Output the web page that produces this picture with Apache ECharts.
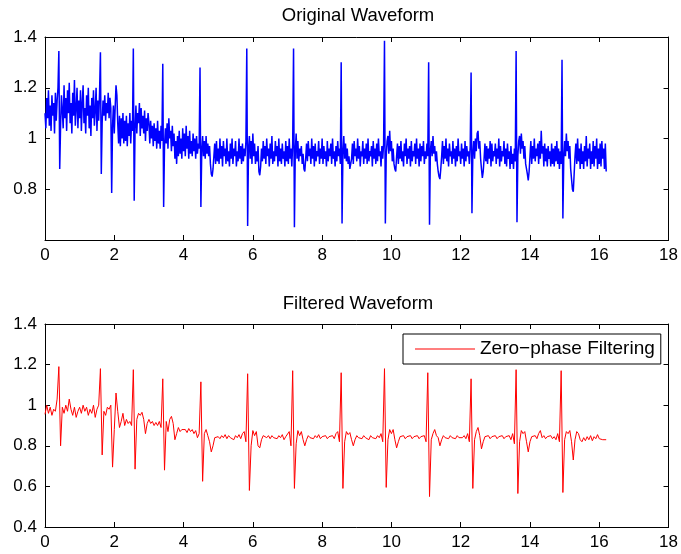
<!DOCTYPE html>
<html>
<head>
<meta charset="utf-8">
<script src="https://cdn.jsdelivr.net/npm/echarts@6/dist/echarts.min.js"></script>
<style>
  html, body { margin: 0; padding: 0; background: #fff; }
  #chart { width: 681px; height: 554px; }
</style>
</head>
<body>
<div id="chart"></div>
<script>
// Sampling intervals (seconds) of the two recordings
const ORIGINAL_DT = 0.025;
const FILTERED_DT = 0.05;

// Raw ECG-like waveform, one row of 40 samples per second
const originalSignal = [
  // 0 s
  1.10, 1.04, 1.16, 1.08, 1.19, 1.05, 1.13, 1.03, 1.17, 1.09,
  1.14, 1.02, 1.18, 1.07, 1.15, 1.20, 1.345, 0.88, 1.05, 1.17,
  1.11, 1.04, 1.21, 1.08, 1.16, 1.03, 1.19, 1.10, 1.22, 1.06,
  1.14, 1.02, 1.18, 1.09, 1.23, 1.05, 1.12, 1.20, 1.04, 1.15,
  // 1 s
  1.08, 1.19, 1.03, 1.14, 1.21, 1.06, 1.12, 1.02, 1.17, 1.09,
  1.20, 1.04, 1.13, 1.01, 1.16, 1.08, 1.19, 1.05, 1.11, 1.20,
  1.03, 1.15, 1.07, 1.18, 1.34, 0.86, 1.06, 1.15, 1.09, 1.17,
  1.07, 1.14, 1.10, 1.18, 1.08, 1.16, 1.12, 0.785, 1.05, 1.13,
  // 2 s
  1.02, 1.12, 1.21, 1.17, 1.06, 0.98, 1.09, 0.97, 1.08, 1.00,
  1.10, 0.98, 1.07, 0.99, 1.09, 0.97, 1.06, 1.01, 1.10, 0.98,
  1.07, 1.03, 1.355, 0.755, 1.04, 1.13, 1.02, 1.10, 1.06, 1.14,
  1.01, 1.12, 1.04, 1.09, 1.02, 1.11, 0.99, 1.08, 1.03, 1.10,
  // 3 s
  1.06, 0.98, 1.07, 1.00, 1.05, 0.97, 1.06, 0.99, 1.04, 0.96,
  1.07, 0.98, 1.03, 0.96, 1.05, 0.99, 1.295, 0.73, 0.97, 1.04,
  0.98, 1.06, 0.96, 1.08, 1.00, 1.03, 0.95, 1.05, 0.97, 1.02,
  0.92, 0.99, 0.90, 1.01, 0.93, 1.03, 0.94, 1.00, 0.92, 1.04,
  // 4 s
  0.95, 1.02, 0.93, 1.05, 0.96, 1.01, 0.92, 1.03, 0.94, 0.99,
  0.93, 1.02, 0.95, 1.00, 0.92, 1.01, 0.94, 0.98, 0.96, 1.28,
  0.73, 0.95, 1.01, 0.93, 0.99, 0.92, 1.01, 0.94, 0.98, 0.93,
  0.97, 0.90, 0.86, 0.85, 0.88, 0.93, 0.98, 0.90, 0.99, 0.91,
  // 5 s
  0.96, 0.90, 1.00, 0.92, 0.97, 0.89, 0.99, 0.93, 0.96, 0.90,
  1.00, 0.91, 0.95, 0.89, 0.98, 0.92, 1.00, 0.90, 0.96, 0.93,
  0.99, 0.89, 0.95, 0.91, 1.00, 0.92, 0.97, 0.90, 0.98, 0.91,
  0.96, 0.93, 0.99, 1.355, 0.655, 0.96, 1.01, 0.92, 0.99, 0.90,
  // 6 s
  1.02, 0.93, 0.98, 0.90, 0.95, 0.91, 0.97, 0.87, 0.855, 0.89,
  0.96, 0.91, 0.99, 0.92, 0.97, 0.90, 1.00, 0.93, 0.96, 0.89,
  0.98, 0.92, 1.01, 0.90, 0.95, 0.91, 0.99, 0.93, 0.97, 0.89,
  1.00, 0.91, 0.96, 0.90, 0.98, 0.92, 0.95, 0.89, 0.99, 0.91,
  // 7 s
  0.97, 0.90, 1.00, 0.92, 0.96, 0.89, 0.98, 1.355, 0.65, 0.95,
  1.02, 0.92, 0.99, 0.91, 0.96, 0.93, 0.97, 0.90, 0.94, 0.88,
  0.87, 0.92, 0.98, 0.91, 0.99, 0.93, 0.96, 0.90, 1.00, 0.92,
  0.97, 0.89, 0.98, 0.91, 0.95, 0.93, 0.99, 0.90, 0.96, 0.92,
  // 8 s
  1.00, 0.90, 0.97, 0.92, 0.95, 0.89, 0.99, 0.91, 0.96, 0.93,
  0.98, 0.90, 1.00, 0.92, 0.95, 0.89, 0.97, 0.91, 0.99, 0.93,
  0.96, 0.90, 1.30, 0.665, 0.94, 1.01, 0.92, 0.98, 0.91, 0.96,
  0.90, 0.93, 0.88, 0.875, 0.92, 0.98, 0.90, 0.99, 0.93, 0.96,
  // 9 s
  0.91, 1.00, 0.92, 0.97, 0.89, 0.95, 0.93, 0.99, 0.90, 0.96,
  0.92, 0.98, 0.90, 1.00, 0.91, 0.95, 0.93, 0.97, 0.89, 0.99,
  0.92, 0.96, 0.90, 0.98, 0.91, 1.00, 0.93, 0.95, 0.89, 0.97,
  0.92, 0.98, 1.385, 0.665, 0.93, 0.99, 1.01, 0.94, 1.03, 0.95,
  // 10 s
  0.99, 0.91, 0.96, 0.90, 0.88, 0.87, 0.93, 0.98, 0.90, 0.97,
  0.92, 0.99, 0.91, 0.95, 0.89, 0.98, 0.93, 1.00, 0.90, 0.96,
  0.92, 0.97, 0.89, 0.99, 0.91, 0.95, 0.93, 0.98, 0.90, 1.00,
  0.92, 0.96, 0.89, 0.98, 0.91, 0.97, 0.93, 0.99, 0.90, 0.95,
  // 11 s
  0.92, 0.98, 0.93, 1.30, 0.66, 0.95, 0.99, 0.93, 1.01, 0.94,
  0.97, 0.91, 0.95, 0.90, 0.87, 0.85, 0.84, 0.88, 0.93, 0.99,
  0.90, 0.97, 0.92, 1.00, 0.91, 0.96, 0.89, 0.98, 0.93, 0.95,
  0.90, 0.99, 0.92, 0.96, 0.89, 0.97, 0.91, 1.00, 0.93, 0.95,
  // 12 s
  0.90, 0.98, 0.92, 0.96, 0.89, 0.99, 0.91, 0.97, 0.93, 0.95,
  0.90, 0.97, 1.26, 0.705, 0.94, 0.99, 0.92, 1.00, 0.95, 1.02,
  1.03, 0.96, 0.99, 0.92, 0.88, 0.845, 0.87, 0.92, 0.98, 0.91,
  0.97, 0.90, 0.96, 0.92, 0.99, 0.89, 0.98, 0.91, 0.95, 0.93,
  // 13 s
  0.98, 0.90, 0.96, 0.92, 1.00, 0.89, 0.97, 0.91, 0.95, 0.93,
  0.99, 0.90, 0.96, 0.89, 0.98, 0.92, 0.95, 0.88, 0.97, 0.90,
  0.94, 0.88, 0.96, 0.91, 1.345, 0.67, 0.93, 0.99, 1.01, 0.94,
  1.02, 0.96, 0.99, 0.92, 0.97, 0.90, 0.88, 0.86, 0.835, 0.87,
  // 14 s
  0.93, 0.99, 0.90, 0.97, 0.92, 1.00, 0.91, 0.96, 0.93, 0.98,
  0.90, 0.99, 0.92, 1.03, 0.94, 0.97, 0.89, 0.98, 0.91, 0.96,
  0.89, 0.97, 0.92, 0.95, 0.89, 0.98, 0.90, 0.96, 0.89, 0.97,
  0.91, 0.99, 0.90, 0.96, 0.88, 0.95, 0.90, 1.31, 0.685, 0.92,
  // 15 s
  0.99, 0.93, 1.02, 0.95, 0.99, 0.92, 0.97, 0.88, 0.84, 0.80,
  0.79, 0.86, 0.93, 0.98, 0.90, 1.00, 0.91, 0.96, 0.88, 0.98,
  0.90, 0.95, 0.88, 0.97, 0.91, 1.01, 0.89, 0.96, 0.92, 0.98,
  0.88, 0.95, 0.90, 0.99, 0.89, 0.97, 0.92, 1.00, 0.88, 0.96,
  // 16 s
  0.90, 0.98, 0.89, 0.99, 0.92, 0.96, 0.88, 0.98, 0.87
];

// Zero-phase filtered waveform, one row of 20 samples per second
const filteredSignal = [
  // 0 s
  0.955, 1.00, 0.96, 0.99, 0.95, 0.98, 0.97, 1.03, 1.19, 0.80,
  0.99, 0.96, 1.00, 0.97, 1.03, 0.98, 0.95, 0.99, 0.94, 0.97,
  // 1 s
  0.99, 0.96, 1.00, 0.97, 0.99, 0.95, 0.98, 0.96, 1.00, 0.94,
  0.98, 1.00, 1.18, 0.755, 0.97, 0.95, 0.99, 0.98, 1.00, 0.695,
  // 2 s
  0.88, 1.06, 0.97, 0.89, 0.92, 0.96, 0.90, 0.93, 0.91, 0.92,
  0.90, 1.175, 0.685, 0.93, 0.96, 0.95, 0.965, 0.93, 0.86, 0.91,
  // 3 s
  0.93, 0.91, 0.92, 0.90, 0.915, 0.90, 0.92, 0.89, 1.13, 0.68,
  0.92, 0.87, 0.93, 0.945, 0.91, 0.83, 0.86, 0.89, 0.87, 0.88,
  // 4 s
  0.875, 0.88, 0.865, 0.885, 0.87, 0.88, 0.86, 0.875, 0.84, 0.86,
  1.115, 0.625, 0.86, 0.88, 0.85, 0.82, 0.77, 0.80, 0.84, 0.835,
  // 5 s
  0.845, 0.835, 0.85, 0.84, 0.855, 0.835, 0.85, 0.84, 0.845, 0.83,
  0.85, 0.84, 0.855, 0.835, 0.86, 0.87, 0.82, 1.155, 0.58, 0.80,
  // 6 s
  0.875, 0.85, 0.87, 0.80, 0.79, 0.83, 0.85, 0.845, 0.84, 0.85,
  0.835, 0.85, 0.84, 0.845, 0.835, 0.85, 0.84, 0.855, 0.83, 0.845,
  // 7 s
  0.85, 0.87, 0.80, 1.17, 0.59, 0.81, 0.875, 0.85, 0.87, 0.83,
  0.80, 0.83, 0.85, 0.84, 0.845, 0.835, 0.85, 0.84, 0.855, 0.835,
  // 8 s
  0.845, 0.84, 0.85, 0.835, 0.845, 0.84, 0.85, 0.835, 0.86, 0.87,
  0.82, 1.16, 0.59, 0.82, 0.87, 0.855, 0.865, 0.83, 0.80, 0.83,
  // 9 s
  0.85, 0.84, 0.845, 0.835, 0.85, 0.84, 0.845, 0.83, 0.85, 0.84,
  0.845, 0.835, 0.85, 0.84, 0.86, 0.82, 1.18, 0.595, 0.83, 0.88,
  // 10 s
  0.86, 0.88, 0.83, 0.79, 0.82, 0.845, 0.84, 0.85, 0.835, 0.845,
  0.84, 0.85, 0.835, 0.845, 0.84, 0.85, 0.835, 0.845, 0.84, 0.85,
  // 11 s
  0.82, 1.16, 0.55, 0.83, 0.86, 0.88, 0.85, 0.84, 0.80, 0.83,
  0.85, 0.84, 0.845, 0.835, 0.85, 0.84, 0.845, 0.835, 0.85, 0.84,
  // 12 s
  0.845, 0.84, 0.85, 0.835, 0.86, 0.82, 1.13, 0.59, 0.83, 0.87,
  0.89, 0.85, 0.785, 0.82, 0.845, 0.84, 0.85, 0.835, 0.845, 0.84,
  // 13 s
  0.85, 0.835, 0.845, 0.84, 0.85, 0.835, 0.845, 0.84, 0.85, 0.83,
  0.86, 0.81, 1.175, 0.565, 0.82, 0.875, 0.86, 0.87, 0.82, 0.77,
  // 14 s
  0.82, 0.845, 0.84, 0.85, 0.835, 0.86, 0.875, 0.84, 0.85, 0.835,
  0.845, 0.84, 0.85, 0.835, 0.845, 0.83, 0.86, 0.82, 1.17, 0.57,
  // 15 s
  0.83, 0.87, 0.86, 0.875, 0.82, 0.73, 0.83, 0.87, 0.86, 0.83,
  0.82, 0.84, 0.825, 0.845, 0.83, 0.85, 0.825, 0.845, 0.835, 0.855,
  // 16 s
  0.835, 0.84, 0.83, 0.835, 0.83
];

// Axis ranges and tick steps
const xRange = [0, 18];
const xStep = 2;
const originalYRange = [0.6, 1.4];
const filteredYRange = [0.4, 1.4];
const yStep = 0.2;

const plotTitles = ['Original Waveform', 'Filtered Waveform'];
const legendLabel = 'Zero\u2212phase Filtering';

const FONT = '"Liberation Sans", Arial, Helvetica, sans-serif';

function toPairs(values, dt) {
  return values.map((v, i) => [+(i * dt).toFixed(4), v]);
}

const tickStyle = { inside: true, length: 5, lineStyle: { color: '#000', width: 1 } };
const lineStyle = { lineStyle: { color: '#000', width: 1 }, onZero: false };

function xAxes(gridIndex) {
  const base = {
    gridIndex, type: 'value', min: xRange[0], max: xRange[1], interval: xStep,
    axisLine: lineStyle, axisTick: tickStyle, splitLine: { show: false }
  };
  return [
    Object.assign({}, base, {
      position: 'bottom',
      axisLabel: { fontSize: 17, color: '#000', fontFamily: FONT, margin: 7 }
    }),
    Object.assign({}, base, { position: 'top', axisLabel: { show: false } })
  ];
}

function yAxes(gridIndex, range, hideBottom) {
  const base = {
    gridIndex, type: 'value', min: range[0], max: range[1], interval: yStep,
    axisLine: lineStyle, axisTick: tickStyle, splitLine: { show: false }
  };
  return [
    Object.assign({}, base, {
      position: 'left',
      axisLabel: {
        fontSize: 17, color: '#000', fontFamily: FONT, margin: 8,
        formatter: v => (hideBottom && Math.abs(v - range[0]) < 1e-6) ? '' : String(+v.toFixed(2))
      }
    }),
    Object.assign({}, base, { position: 'right', axisLabel: { show: false } })
  ];
}

const chart = echarts.init(document.getElementById('chart'), null, { renderer: 'canvas' });

chart.setOption({
  animation: false,
  backgroundColor: '#fff',
  grid: [
    { left: 45, top: 37, width: 625, height: 203 },
    { left: 45, top: 324, width: 625, height: 203 }
  ],
  xAxis: [...xAxes(0), ...xAxes(1)],
  yAxis: [...yAxes(0, originalYRange, true), ...yAxes(1, filteredYRange, false)],
  graphic: [
    {
      type: 'text', x: 358, y: 15.5,
      style: { text: plotTitles[0], fontSize: 18.5, fontFamily: FONT, fill: '#000', align: 'center', verticalAlign: 'middle' }
    },
    {
      type: 'text', x: 358, y: 303.5,
      style: { text: plotTitles[1], fontSize: 18.5, fontFamily: FONT, fill: '#000', align: 'center', verticalAlign: 'middle' }
    }
  ],
  legend: {
    data: [legendLabel],
    left: 403, top: 334,
    padding: [5, 6, 5, 12],
    icon: 'rect',
    itemWidth: 60, itemHeight: 1.2, itemGap: 0,
    itemStyle: { color: '#ff0000', borderWidth: 0 },
    borderColor: '#000', borderWidth: 1, backgroundColor: '#fff',
    textStyle: { fontSize: 19, color: '#000', fontFamily: FONT, lineHeight: 20 }
  },
  series: [
    {
      name: 'Original', type: 'line', xAxisIndex: 0, yAxisIndex: 0,
      data: toPairs(originalSignal, ORIGINAL_DT),
      symbol: 'none', showSymbol: false, sampling: null,
      lineStyle: { color: '#0000ff', width: 1.5 }, itemStyle: { color: '#0000ff' }
    },
    {
      name: legendLabel, type: 'line', xAxisIndex: 2, yAxisIndex: 2,
      data: toPairs(filteredSignal, FILTERED_DT),
      symbol: 'none', showSymbol: false,
      lineStyle: { color: '#ff0000', width: 1 }, itemStyle: { color: '#ff0000' }
    }
  ]
});
</script>
</body>
</html>
